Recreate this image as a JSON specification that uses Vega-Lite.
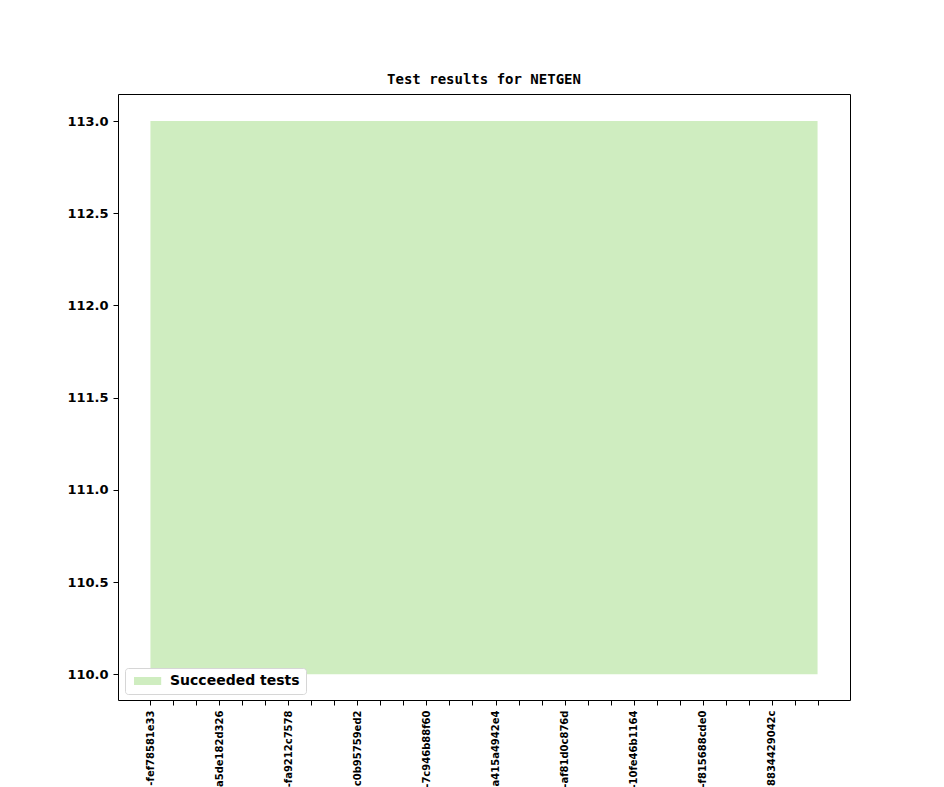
{
  "$schema": "https://vega.github.io/schema/vega-lite/v6.json",
  "autosize": {"type": "none"},
  "padding": {"left": 118, "top": 94, "right": 94, "bottom": 87},
  "width": 732,
  "height": 606,
  "background": "white",
  "title": {
    "text": "Test results for NETGEN",
    "font": "DejaVu Sans Mono",
    "fontSize": 14,
    "fontWeight": "bold",
    "color": "black",
    "offset": 7
  },
  "config": {
    "view": {"stroke": "black", "strokeWidth": 1},
    "axis": {
      "domain": false,
      "grid": false,
      "tickColor": "black",
      "tickSize": 5,
      "labelColor": "black",
      "labelFont": "DejaVu Sans",
      "labelFontWeight": "bold",
      "title": null
    }
  },
  "datasets": {
    "runs": [
      {"idx": 0, "commit": "-fef78581e33", "succeeded": 113, "base": 110, "status": "Succeeded tests"},
      {"idx": 1, "commit": "", "succeeded": 113, "base": 110, "status": "Succeeded tests"},
      {"idx": 2, "commit": "", "succeeded": 113, "base": 110, "status": "Succeeded tests"},
      {"idx": 3, "commit": "a5de182d326", "succeeded": 113, "base": 110, "status": "Succeeded tests"},
      {"idx": 4, "commit": "", "succeeded": 113, "base": 110, "status": "Succeeded tests"},
      {"idx": 5, "commit": "", "succeeded": 113, "base": 110, "status": "Succeeded tests"},
      {"idx": 6, "commit": "-fa9212c7578", "succeeded": 113, "base": 110, "status": "Succeeded tests"},
      {"idx": 7, "commit": "", "succeeded": 113, "base": 110, "status": "Succeeded tests"},
      {"idx": 8, "commit": "", "succeeded": 113, "base": 110, "status": "Succeeded tests"},
      {"idx": 9, "commit": "c0b95759ed2", "succeeded": 113, "base": 110, "status": "Succeeded tests"},
      {"idx": 10, "commit": "", "succeeded": 113, "base": 110, "status": "Succeeded tests"},
      {"idx": 11, "commit": "", "succeeded": 113, "base": 110, "status": "Succeeded tests"},
      {"idx": 12, "commit": "-7c946b88f60", "succeeded": 113, "base": 110, "status": "Succeeded tests"},
      {"idx": 13, "commit": "", "succeeded": 113, "base": 110, "status": "Succeeded tests"},
      {"idx": 14, "commit": "", "succeeded": 113, "base": 110, "status": "Succeeded tests"},
      {"idx": 15, "commit": "a415a4942e4", "succeeded": 113, "base": 110, "status": "Succeeded tests"},
      {"idx": 16, "commit": "", "succeeded": 113, "base": 110, "status": "Succeeded tests"},
      {"idx": 17, "commit": "", "succeeded": 113, "base": 110, "status": "Succeeded tests"},
      {"idx": 18, "commit": "-af81d0c876d", "succeeded": 113, "base": 110, "status": "Succeeded tests"},
      {"idx": 19, "commit": "", "succeeded": 113, "base": 110, "status": "Succeeded tests"},
      {"idx": 20, "commit": "", "succeeded": 113, "base": 110, "status": "Succeeded tests"},
      {"idx": 21, "commit": "-10fe46b1164", "succeeded": 113, "base": 110, "status": "Succeeded tests"},
      {"idx": 22, "commit": "", "succeeded": 113, "base": 110, "status": "Succeeded tests"},
      {"idx": 23, "commit": "", "succeeded": 113, "base": 110, "status": "Succeeded tests"},
      {"idx": 24, "commit": "-f815688cde0", "succeeded": 113, "base": 110, "status": "Succeeded tests"},
      {"idx": 25, "commit": "", "succeeded": 113, "base": 110, "status": "Succeeded tests"},
      {"idx": 26, "commit": "", "succeeded": 113, "base": 110, "status": "Succeeded tests"},
      {"idx": 27, "commit": "8834429042c", "succeeded": 113, "base": 110, "status": "Succeeded tests"},
      {"idx": 28, "commit": "", "succeeded": 113, "base": 110, "status": "Succeeded tests"},
      {"idx": 29, "commit": "", "succeeded": 113, "base": 110, "status": "Succeeded tests"}
    ]
  },
  "data": {"name": "runs"},
  "mark": {"type": "area", "opacity": 1},
  "encoding": {
    "x": {
      "field": "idx",
      "type": "quantitative",
      "scale": {"domain": [-1.41, 30.41], "nice": false, "zero": false},
      "axis": {
        "values": [0, 1, 2, 3, 4, 5, 6, 7, 8, 9, 10, 11, 12, 13, 14, 15, 16, 17, 18, 19, 20, 21, 22, 23, 24, 25, 26, 27, 28, 29],
        "labelExpr": "data('runs')[datum.value].commit",
        "labelAngle": 270,
        "labelAlign": "right",
        "labelBaseline": "middle",
        "labelFontSize": 10,
        "labelPadding": 5,
        "labelOverlap": false,
        "labelBound": false,
        "labelFlush": false
      }
    },
    "y": {
      "field": "succeeded",
      "type": "quantitative",
      "scale": {"domain": [109.86, 113.147], "nice": false, "zero": false},
      "axis": {
        "values": [110, 110.5, 111, 111.5, 112, 112.5, 113],
        "format": ".1f",
        "labelFontSize": 13,
        "labelPadding": 5
      }
    },
    "y2": {"field": "base"},
    "color": {
      "field": "status",
      "type": "nominal",
      "scale": {"domain": ["Succeeded tests"], "range": ["#cfedc0"]},
      "legend": {
        "title": null,
        "orient": "none",
        "legendX": 7,
        "legendY": 574,
        "fillColor": "white",
        "strokeColor": "#d6d6d6",
        "cornerRadius": 3,
        "padding": 6,
        "symbolType": "M-1,-1L5.8,-1L5.8,1L-1,1Z",
        "symbolSize": 64,
        "symbolFillColor": "#cfedc0",
        "symbolStrokeWidth": 0,
        "symbolOpacity": 1,
        "labelFont": "DejaVu Sans",
        "labelFontWeight": "bold",
        "labelFontSize": 14,
        "labelColor": "black",
        "labelOffset": 25
      }
    }
  }
}
